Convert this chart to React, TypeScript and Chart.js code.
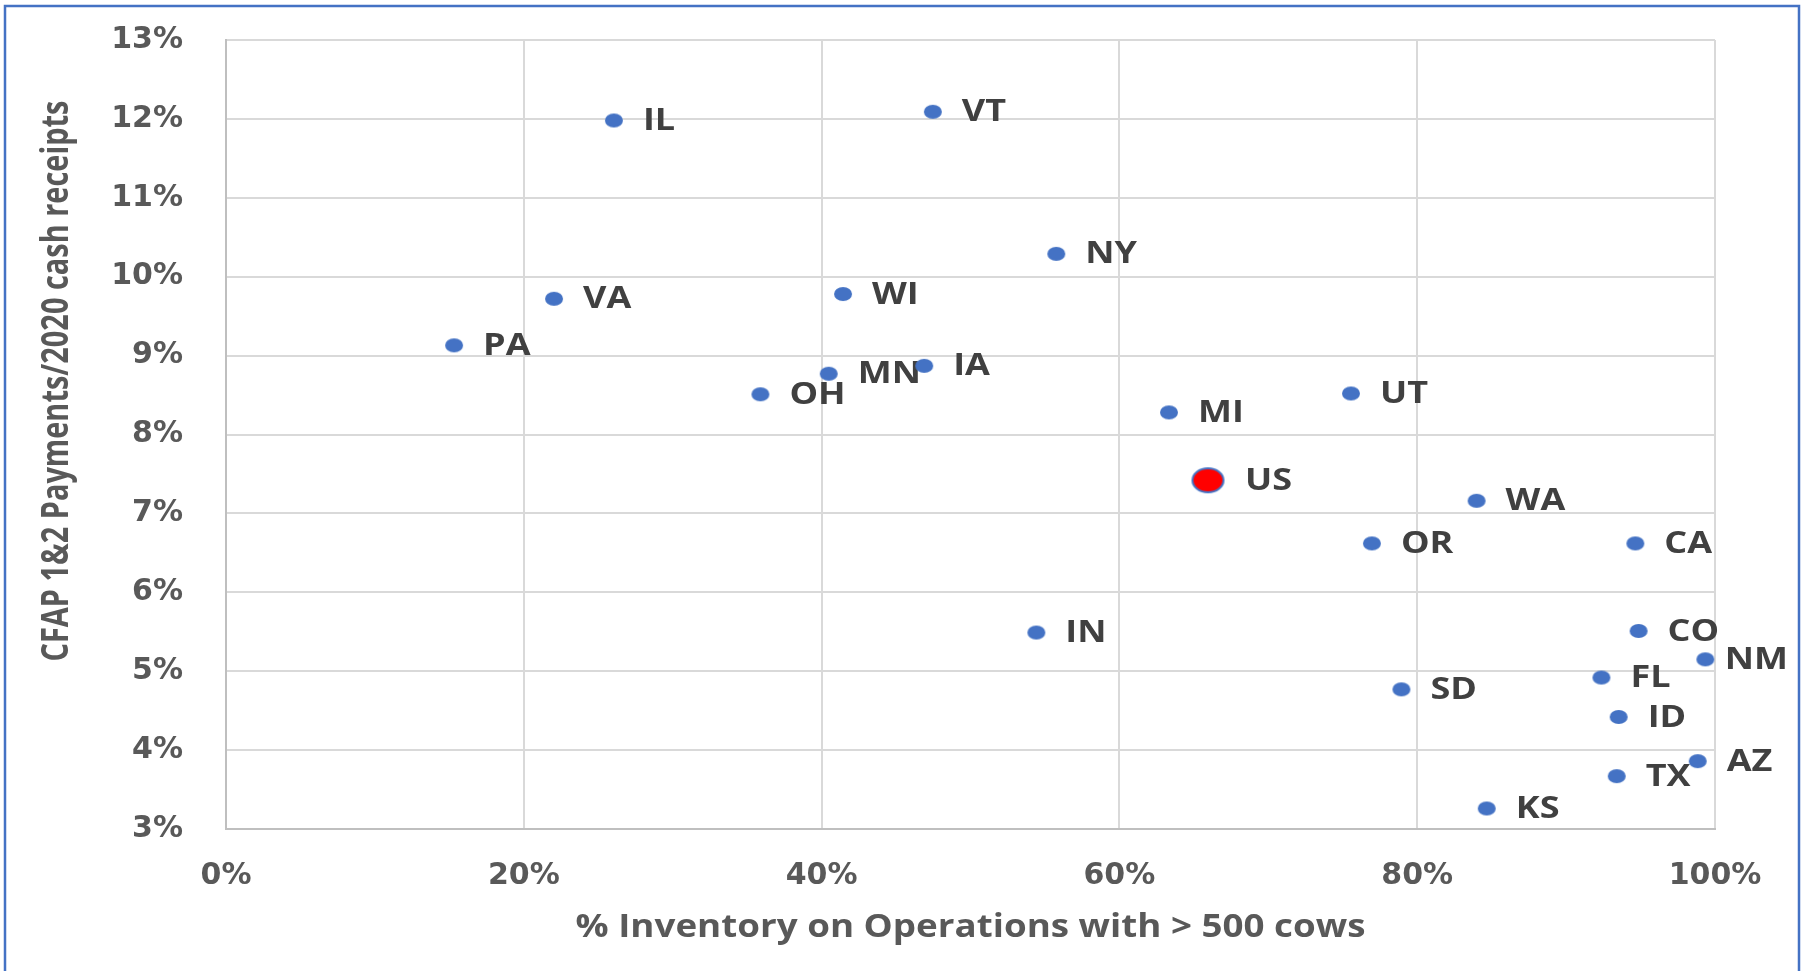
import React, { useEffect, useRef } from "react";
import { Chart, registerables } from "chart.js";

Chart.register(...registerables);

// ---- data ----
const states = ["IL", "VT", "NY", "VA", "WI", "PA", "MN", "IA", "OH", "MI", "UT", "WA", "OR", "CA", "IN", "CO", "NM", "FL", "SD", "ID", "AZ", "TX", "KS"];
const inventoryShare = [26.05, 47.47, 55.76, 22.03, 41.44, 15.32, 40.48, 46.89, 35.89, 63.33, 75.55, 83.99, 76.96, 94.65, 54.42, 94.87, 99.35, 92.37, 78.94, 93.53, 98.84, 93.4, 84.67];
const paymentShare = [11.98, 12.09, 10.29, 9.72, 9.78, 9.13, 8.77, 8.87, 8.51, 8.28, 8.52, 7.16, 6.62, 6.62, 5.49, 5.51, 5.15, 4.92, 4.77, 4.42, 3.86, 3.67, 3.26];
const usLabels = ["US"];
const usInventory = [65.95];
const usPayment = [7.42];
const xTicks = [0, 20, 40, 60, 80, 100];
const yTicks = [3, 4, 5, 6, 7, 8, 9, 10, 11, 12, 13];
const xTitle = "% Inventory on Operations with > 500 cows";
const yTitle = "CFAP 1&2 Payments/2020 cash receipts";

function ellipseCanvas(rx: number, ry: number, fill: string, stroke?: string, lw = 0) {
  const c = document.createElement("canvas");
  const pad = lw + 1;
  c.width = Math.ceil(2 * rx + 2 * pad);
  c.height = Math.ceil(2 * ry + 2 * pad);
  const g = c.getContext("2d")!;
  g.beginPath();
  g.ellipse(c.width / 2, c.height / 2, rx, ry, 0, 0, Math.PI * 2);
  g.fillStyle = fill;
  g.fill();
  if (stroke) {
    g.lineWidth = lw;
    g.strokeStyle = stroke;
    g.stroke();
  }
  return c;
}

const STRETCH = 1.2;

const framePlugin = {
  id: "frame",
  beforeDraw(chart: any) {
    const ctx = chart.ctx;
    ctx.save();
    ctx.fillStyle = "#ffffff";
    ctx.fillRect(0, 0, chart.width, chart.height);
    ctx.strokeStyle = "#4472C4";
    ctx.lineWidth = 2.5;
    ctx.beginPath();
    ctx.moveTo(5, chart.height + 5);
    ctx.lineTo(5, 6);
    ctx.lineTo(1799, 6);
    ctx.lineTo(1799, chart.height + 5);
    ctx.stroke();
    ctx.restore();
  },
  afterDraw(chart: any) {
    const ctx = chart.ctx;
    const area = chart.chartArea;
    ctx.save();
    ctx.fillStyle = "#595959";
    ctx.font = '700 32px "Open Sans"';
    ctx.textAlign = "center";
    ctx.textBaseline = "alphabetic";
    // x title
    let w = ctx.measureText(xTitle).width;
    ctx.save();
    ctx.translate((area.left + area.right) / 2, 937);
    ctx.scale(790 / w, 1);
    ctx.fillText(xTitle, 0, 0);
    ctx.restore();
    // y title
    w = ctx.measureText(yTitle).width;
    ctx.save();
    ctx.translate(68, 381);
    ctx.rotate(-Math.PI / 2);
    ctx.scale(561 / w, STRETCH);
    ctx.fillText(yTitle, 0, 0);
    ctx.restore();
    ctx.restore();
  },
};

const labelPlugin = {
  id: "pointLabels",
  beforeDatasetsDraw(chart: any) {
    const ctx = chart.ctx;
    ctx.save();
    ctx.font = '700 30px "Open Sans"';
    ctx.fillStyle = "#404040";
    ctx.textBaseline = "middle";
    ctx.textAlign = "left";
    const maxRight = chart.width - 16;
    chart.data.datasets.forEach((ds: any, di: number) => {
      const meta = chart.getDatasetMeta(di);
      const rx = ds.labelOffset;
      meta.data.forEach((el: any, i: number) => {
        const text = ds.pointLabels[i];
        const w = ctx.measureText(text).width * STRETCH;
        let left = el.x + rx + 20;
        if (left + w > maxRight) left = maxRight - w;
        ctx.save();
        ctx.translate(left, el.y + 1);
        ctx.scale(STRETCH, 1);
        ctx.fillText(text, 0, 0);
        ctx.restore();
      });
    });
    ctx.restore();
  },
};

export default function App() {
  const ref = useRef<HTMLCanvasElement | null>(null);

  useEffect(() => {
    if (!ref.current) return;
    const dot = ellipseCanvas(9, 7, "#4472C4");
    const usDot = ellipseCanvas(15.5, 12, "#FF0000", "#4472C4", 2);
    const tickFont = { family: "DejaVu Sans", weight: "bold" as const, size: 30 };

    const chart = new Chart(ref.current, {
      type: "scatter",
      data: {
        datasets: [
          {
            data: states.map((_, i) => ({ x: inventoryShare[i], y: paymentShare[i] })),
            pointStyle: dot as any,
            pointRadius: 9,
            pointHoverRadius: 9,
            backgroundColor: "#4472C4",
            borderWidth: 0,
            clip: false as any,
            pointLabels: states,
            labelOffset: 9,
          } as any,
          {
            data: usLabels.map((_, i) => ({ x: usInventory[i], y: usPayment[i] })),
            pointStyle: usDot as any,
            pointRadius: 16,
            pointHoverRadius: 16,
            backgroundColor: "#FF0000",
            borderWidth: 0,
            clip: false as any,
            pointLabels: usLabels,
            labelOffset: 17,
          } as any,
        ],
      },
      options: {
        responsive: false,
        animation: false,
        devicePixelRatio: 1,
        layout: { padding: { top: 40, right: 89, left: 0, bottom: 0 } },
        plugins: { legend: { display: false }, tooltip: { enabled: false } },
        events: [],
        scales: {
          x: {
            type: "linear",
            min: 0,
            max: 100,
            afterBuildTicks: (s: any) => {
              s.ticks = xTicks.map((v) => ({ value: v }));
            },
            afterFit: (s: any) => {
              s.height = 142;
              s.paddingLeft = 0;
              s.paddingRight = 0;
            },
            ticks: {
              callback: (v: any) => v + "%",
              font: tickFont,
              color: "#595959",
              padding: 29,
              maxRotation: 0,
              autoSkip: false,
            },
            grid: { color: "#d9d9d9", lineWidth: 2, drawTicks: false },
            border: { color: "#bfbfbf", width: 2 },
          },
          y: {
            type: "linear",
            min: 3,
            max: 13,
            afterBuildTicks: (s: any) => {
              s.ticks = yTicks.map((v) => ({ value: v }));
            },
            afterFit: (s: any) => {
              s.width = 226;
              s.paddingTop = 0;
              s.paddingBottom = 0;
            },
            ticks: {
              callback: (v: any) => v + "%",
              font: tickFont,
              color: "#595959",
              padding: 43,
              autoSkip: false,
            },
            grid: { color: "#d9d9d9", lineWidth: 2, drawTicks: false },
            border: { color: "#bfbfbf", width: 2 },
          },
        },
      },
      plugins: [framePlugin, labelPlugin],
    });
    return () => chart.destroy();
  }, []);

  return (
    <div style={{ position: "absolute", left: 0, top: 0, width: 1804, height: 971 }}>
      <canvas ref={ref} width={1804} height={971} style={{ display: "block", width: 1804, height: 971 }} />
    </div>
  );
}
